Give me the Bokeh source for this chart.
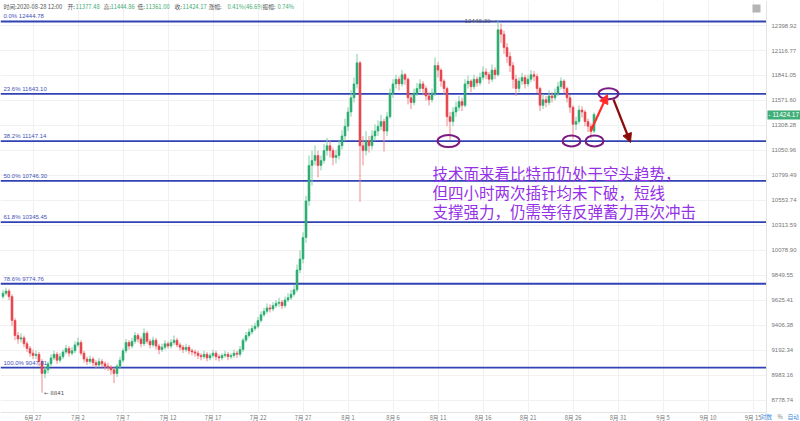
import numpy as np
import pandas as pd
from bokeh.plotting import figure
from bokeh.models import (Range1d, Span, Label, Arrow, NormalHead, FixedTicker,
                          PrintfTickFormatter, BoxAnnotation, ColumnDataSource)
from bokeh.embed import file_html
from bokeh.resources import INLINE

# ---------------- data (8h candles) ----------------
first_open = 9660.0
close = [9690, 9710, 9660, 9450, 9320, 9290, 9300, 9250, 9210, 9170,
         9150, 9160, 9100, 9000, 9030, 9080, 9130, 9160, 9110, 9140,
         9180, 9210, 9170, 9190, 9240, 9260, 9170, 9120, 9100, 9120,
         9090, 9070, 9100, 9080, 9060, 9050, 9030, 9000, 9060, 9110,
         9190, 9260, 9230, 9270, 9320, 9290, 9250, 9340, 9270, 9240,
         9280, 9230, 9200, 9220, 9250, 9230, 9260, 9280, 9240, 9220,
         9200, 9220, 9190, 9180, 9170, 9150, 9140, 9160, 9130, 9150,
         9170, 9140, 9130, 9150, 9160, 9140, 9150, 9170, 9160, 9200,
         9280, 9320, 9350, 9380, 9400, 9450, 9500, 9530, 9560, 9550,
         9580, 9600, 9610, 9580, 9630, 9650, 9680, 9720, 9900, 10000,
         10200, 10550, 10900, 10950, 11000, 10900, 10950, 11050, 11100, 11050,
         10980, 11000, 11100, 11200, 11300, 11450, 11600, 11750, 11980, 11100,
         11050, 11150, 11100, 11200, 11250, 11300, 11350, 11250, 11400, 11650,
         11750, 11800, 11750, 11850, 11800, 11600, 11550, 11650, 11700, 11750,
         11700, 11620, 11580, 11650, 11950, 11900, 11780, 11700, 11400, 11350,
         11450, 11500, 11560, 11520, 11750, 11780, 11720, 11800, 11760, 11820,
         11880, 11850, 11800, 11900, 11850, 12350, 12300, 12150, 12050, 11950,
         11800, 11700, 11780, 11820, 11750, 11800, 11850, 11830, 11700, 11520,
         11580, 11550, 11620, 11600, 11650, 11720, 11780, 11700, 11600, 11500,
         11320, 11350, 11470, 11450, 11350, 11300, 11250, 11424.17]
high = [9720, 9740, 9730, 9680, 9470, 9350, 9340, 9320, 9270, 9230,
        9200, 9190, 9180, 9120, 9060, 9100, 9160, 9190, 9180, 9170,
        9200, 9240, 9230, 9220, 9270, 9300, 9280, 9190, 9140, 9150,
        9140, 9110, 9130, 9120, 9100, 9090, 9070, 9050, 9080, 9140,
        9210, 9290, 9280, 9300, 9350, 9340, 9310, 9380, 9360, 9290,
        9310, 9300, 9250, 9250, 9280, 9270, 9290, 9320, 9300, 9260,
        9240, 9250, 9240, 9210, 9200, 9190, 9170, 9190, 9180, 9170,
        9200, 9190, 9160, 9170, 9190, 9180, 9170, 9200, 9190, 9230,
        9300, 9350, 9380, 9410, 9430, 9480, 9530, 9560, 9600, 9590,
        9610, 9630, 9650, 9630, 9660, 9690, 9720, 9760, 9950, 10080,
        10250, 10600, 11000, 11050, 11100, 11050, 11000, 11120, 11180, 11150,
        11080, 11060, 11150, 11260, 11380, 11500, 11680, 11820, 12080, 12000,
        11200, 11250, 11200, 11260, 11320, 11360, 11420, 11380, 11450, 11700,
        11800, 11850, 11830, 11900, 11870, 11820, 11640, 11700, 11760, 11800,
        11780, 11730, 11660, 11700, 12040, 11990, 11920, 11800, 11720, 11450,
        11500, 11560, 11620, 11600, 11800, 11840, 11800, 11850, 11830, 11870,
        11940, 11920, 11880, 11960, 11930, 12448.39, 12420, 12340, 12200, 12100,
        11990, 11850, 11820, 11870, 11850, 11850, 11900, 11890, 11860, 11720,
        11640, 11620, 11680, 11660, 11700, 11770, 11820, 11800, 11720, 11630,
        11520, 11400, 11520, 11510, 11470, 11380, 11330, 11444.86]
low = [9640, 9670, 9630, 9400, 9280, 9250, 9260, 9220, 9180, 9140,
       9120, 9120, 9060, 8841, 8960, 9000, 9060, 9110, 9080, 9090,
       9120, 9160, 9140, 9150, 9170, 9220, 9150, 9090, 9070, 9080,
       9060, 9040, 9050, 9050, 9030, 9020, 8990, 8920, 8970, 9040,
       9090, 9170, 9200, 9210, 9250, 9260, 9220, 9230, 9250, 9210,
       9220, 9200, 9160, 9180, 9200, 9210, 9210, 9240, 9220, 9190,
       9170, 9180, 9160, 9150, 9140, 9120, 9110, 9120, 9100, 9110,
       9130, 9110, 9100, 9110, 9130, 9110, 9120, 9130, 9130, 9140,
       9180, 9260, 9300, 9330, 9360, 9380, 9430, 9480, 9510, 9520,
       9530, 9560, 9570, 9550, 9560, 9610, 9630, 9660, 9700, 9870,
       9960, 10150, 10500, 10700, 10900, 10780, 10850, 10920, 11000, 10980,
       10900, 10920, 10960, 11060, 11150, 11250, 11400, 11550, 11700, 10540,
       10900, 11000, 11030, 11060, 11150, 11200, 11260, 11040, 11200, 11380,
       11600, 11700, 11680, 11720, 11740, 11530, 11480, 11520, 11620, 11660,
       11640, 11570, 11520, 11550, 11620, 11820, 11720, 11640, 11300, 11160,
       11300, 11400, 11460, 11460, 11500, 11700, 11660, 11690, 11720, 11730,
       11790, 11800, 11750, 11770, 11800, 11830, 12200, 12080, 11980, 11880,
       11700, 11620, 11660, 11740, 11700, 11720, 11770, 11780, 11650, 11460,
       11480, 11500, 11520, 11550, 11570, 11620, 11690, 11650, 11550, 11440,
       11170, 11260, 11320, 11390, 11300, 11240, 11175, 11230]

fib_ratio = ["0.0%", "23.6%", "38.2%", "50.0%", "61.8%", "78.6%", "100.0%"]
fib_price = [12444.78, 11643.10, 11147.14, 10746.30, 10345.45, 9774.76, 9047.81]

y_ticks = [12398.92, 12116.77, 11841.05, 11571.60, 11308.28, 11050.96, 10799.49,
           10553.74, 10313.59, 10078.90, 9849.55, 9625.41, 9406.38, 9192.34,
           8983.16, 8778.74]

x_tick_days = [0, 5, 10, 15, 20, 25, 30, 35, 40, 45, 50, 55, 60, 65, 70, 75, 80]
x_tick_labels = ["6月 27", "7月 2", "7月 7", "7月 12", "7月 17", "7月 22", "7月 27",
                 "8月 1", "8月 6", "8月 11", "8月 16", "8月 21", "8月 26", "8月 31",
                 "9月 5", "9月 10", "9月 15"]

header_parts = [("时间:2020-08-28 12:00", "#555555", 3), ("开:", "#555555", 67),
                ("11377.48", "#3dab6f", 75), ("高:", "#555555", 103),
                ("11444.86", "#3dab6f", 110), ("低:", "#555555", 137),
                ("11361.00", "#3dab6f", 145), ("收:", "#555555", 174),
                ("11424.17", "#3dab6f", 182), ("涨幅:", "#555555", 208),
                ("0.41%(46.69)", "#3dab6f", 227), ("振幅:", "#555555", 262),
                ("0.74%", "#3dab6f", 277)]

note_lines = ["技术面来看比特币仍处于空头趋势，",
              "但四小时两次插针均未下破，短线",
              "支撑强力，仍需等待反弹蓄力再次冲击"]

last_price = 11424.17
peak_price = 12448.39
low_price = 8841

# ---------------- helpers: reference-pixel -> data coordinates ----------------
STEP = y_ticks[0] / y_ticks[1]
W, H = 800, 421          # whole canvas is the frame; axes sit at fixed locations
AX_X, AX_Y = 766, 412    # where the price axis / date axis are drawn


def day(X):
    return (X - 32.5) / 9.0


def price(Y):
    return y_ticks[0] * STEP ** (-(Y - 25) / 25.0)


# ---------------- candles ----------------
opens = [first_open] + close[:-1]
t = pd.date_range("2020-06-23 16:00", periods=len(close), freq="8h")
xd = ((t - pd.Timestamp("2020-06-27")) / pd.Timedelta(days=1)).values
UP, DOWN = "#2fae74", "#e9474f"
UPW, DOWNW = "#7fcfa8", "#f08a8f"
cols = [UP if c >= o else DOWN for o, c in zip(opens, close)]
wcols = [UPW if c >= o else DOWNW for o, c in zip(opens, close)]
src = ColumnDataSource(dict(
    x=xd,
    top=[max(o, c) for o, c in zip(opens, close)],
    bottom=[min(o, c) for o, c in zip(opens, close)],
    hi=[max(h, o, c) for h, o, c in zip(high, opens, close)],
    lo=[min(l, o, c) for l, o, c in zip(low, opens, close)],
    color=cols, wcolor=wcols))

p = figure(width=W, height=H, output_backend="svg", toolbar_location=None,
           x_range=Range1d(day(0), day(W)), y_range=Range1d(price(H), price(0)),
           y_axis_type="log", y_axis_location="right",
           min_border_left=0, min_border_top=0, min_border_right=0, min_border_bottom=0)
p.outline_line_color = None
p.background_fill_color = "white"

# axes (fixed locations, so they take no panel space)
ya = p.yaxis[0]
ya.fixed_location = day(AX_X)
ya.ticker = FixedTicker(ticks=y_ticks)
ya.formatter = PrintfTickFormatter(format="%.2f")
ya.major_label_text_font_size = "6px"
ya.major_label_text_color = "#777777"
ya.major_label_text_font = "Liberation Sans"
ya.axis_line_color = "#e4e4e4"
ya.major_tick_line_color = None
ya.minor_tick_line_color = None
ya.major_tick_out = 0
ya.major_tick_in = 0
ya.major_label_standoff = 5

xa = p.xaxis[0]
xa.fixed_location = price(AX_Y)
xa.bounds = (day(0), day(AX_X))
xa.ticker = FixedTicker(ticks=x_tick_days)
xa.major_label_overrides = {d: lab for d, lab in zip(x_tick_days, x_tick_labels)}
xa.major_label_text_font_size = "5.8px"
xa.major_label_text_color = "#777777"
xa.major_label_text_font = "Noto Sans CJK SC"
xa.axis_line_color = "#e4e4e4"
xa.major_tick_line_color = None
xa.minor_tick_line_color = None
xa.major_tick_out = 0
xa.major_tick_in = 0
xa.major_label_standoff = 0

p.xgrid.ticker = FixedTicker(ticks=x_tick_days)
p.ygrid.ticker = FixedTicker(ticks=y_ticks)
p.xgrid.grid_line_color = "#f1f1f1"
p.ygrid.grid_line_color = "#f1f1f1"

# fibonacci lines (underlay, then masked outside the chart area)
for fp in fib_price:
    p.add_layout(Span(location=fp, dimension="width", line_color="#3142b4",
                      line_width=1.8, level="underlay"))
p.add_layout(BoxAnnotation(left=day(AX_X), right=day(W), fill_color="white", fill_alpha=1,
                           line_color=None, level="underlay"))
p.add_layout(BoxAnnotation(top=price(AX_Y), bottom=price(H), fill_color="white", fill_alpha=1,
                           line_color=None, level="underlay"))

p.segment(x0="x", y0="hi", x1="x", y1="lo", line_color="wcolor", line_width=1, source=src)
p.vbar(x="x", width=0.22, top="top", bottom="bottom", fill_color="color",
       line_color="color", line_width=0.6, source=src)

for r, fp in zip(fib_ratio, fib_price):
    p.add_layout(Label(x=day(3), y=fp, text=f"{r} {fp:.2f}", text_baseline="bottom",
                       y_offset=2, text_font="Liberation Sans", text_font_size="6px",
                       text_color="#4552b8"))

# header
for txt, col, X in header_parts:
    p.add_layout(Label(x=day(X), y=price(6), text=txt, text_baseline="middle",
                       text_font="Noto Sans CJK SC", text_font_size="5.8px", text_color=col))

# peak / low labels
p.add_layout(Label(x=xd[close.index(12350)], y=peak_price, text=f"{peak_price:.2f} →",
                   text_align="right", text_baseline="middle", x_offset=-1,
                   text_font="DejaVu Sans", text_font_size="5.5px", text_color="#555555"))
p.add_layout(Label(x=xd[close.index(9000)], y=low_price, text=f"← {low_price}",
                   text_align="left", text_baseline="middle", x_offset=2,
                   text_font="DejaVu Sans", text_font_size="5.5px", text_color="#555555"))

# note text
for i, line in enumerate(note_lines):
    p.add_layout(Label(x=day(432), y=price(172 + 19 * i), text=line, text_baseline="middle",
                       text_font="Noto Sans CJK SC", text_font_size="15.5px",
                       text_color="#9530e6"))

# ellipses around the wicks / target
ell_x = [day(448), day(571), day(594), day(608)]
ell_y = [fib_price[2], fib_price[2], fib_price[2], fib_price[1]]
p.ellipse(x=ell_x, y=ell_y, width=[22, 18, 18, 20], height=[12, 11, 11, 11],
          width_units="screen", height_units="screen", fill_alpha=0,
          line_color="#7b1a80", line_width=2)

# arrows
p.add_layout(Arrow(end=NormalHead(size=9, fill_color="#ff2a2a", line_color="#ff2a2a"),
                   x_start=day(590), y_start=price(131), x_end=day(607), y_end=price(94),
                   line_color="#ff2a2a", line_width=2.2))
p.add_layout(Arrow(end=NormalHead(size=9, fill_color="#8b0a0a", line_color="#8b0a0a"),
                   x_start=day(613), y_start=price(99), x_end=day(630), y_end=price(142),
                   line_color="#8b0a0a", line_width=2.2))

# current price tag on the price axis
p.add_layout(BoxAnnotation(left=day(AX_X + 1), right=day(W), top=price(110), bottom=price(119),
                           fill_color="#3fae78", fill_alpha=1, line_color=None))
p.add_layout(Label(x=day(AX_X + 2), y=last_price, text=f"- {last_price:.2f}",
                   text_baseline="middle", text_font="Liberation Sans", text_font_size="6.5px",
                   text_color="white"))

# corner icon and axis mode text
p.add_layout(BoxAnnotation(left=day(752), right=day(760), top=price(4), bottom=price(12),
                           fill_color="#b4b4b4", fill_alpha=1, line_color=None))
for txt, col, X in [("对数", "#4a90e2", 760), ("%", "#777777", 777), ("自动", "#4a90e2", 787)]:
    p.add_layout(Label(x=day(X), y=price(416.3), text=txt, text_baseline="middle",
                       text_font="Noto Sans CJK SC", text_font_size="5.8px", text_color=col))

open("out.html", "w").write(file_html(p, INLINE))
